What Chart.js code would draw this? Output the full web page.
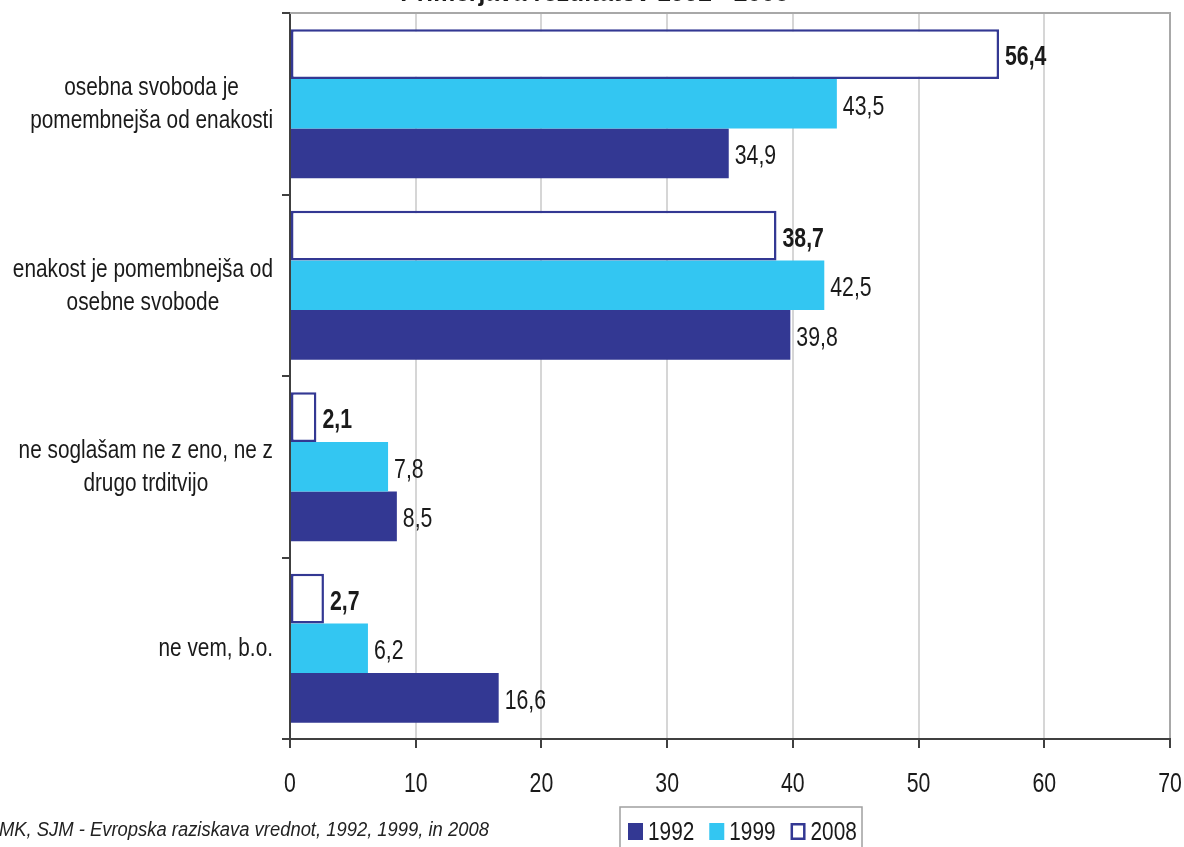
<!DOCTYPE html>
<html>
<head>
<meta charset="utf-8">
<script src="https://cdn.jsdelivr.net/npm/chart.js@4.4.1/dist/chart.umd.min.js"></script>
<style>
  html, body { margin: 0; padding: 0; background: #ffffff; overflow: hidden; }
  #wrap { position: relative; width: 1184px; height: 847px; overflow: hidden; }
  #c { position: absolute; left: 0; top: 0; }
  .sans { font-family: 'Liberation Sans', Arial, sans-serif; }
  #titlebox { position: absolute; left: 0; width: 1190px; top: -23px; text-align: center; }
  #title { display: inline-block; font-size: 26px; font-weight: bold; color: #1a1a1a; line-height: 30px; white-space: nowrap; transform: scaleX(0.95); transform-origin: center; }
  #source { position: absolute; left: -1px; top: 818px; font-size: 20px; font-style: italic; color: #222; white-space: nowrap; line-height: 22px; transform: scaleX(0.92); transform-origin: left center; }
</style>
</head>
<body>
<div id="wrap">
  <canvas id="c" width="1184" height="847"></canvas>
  <div id="titlebox"><span id="title" class="sans">Primerjava rezultatov 1992 - 2008</span></div>
  <div id="source" class="sans">MK, SJM - Evropska raziskava vrednot, 1992, 1999, in 2008</div>
</div>
<script>
const categories = [
  ["osebna svoboda je", "pomembnejša od enakosti"],
  ["enakost je pomembnejša od", "osebne svobode"],
  ["ne soglašam ne z eno, ne z", "drugo trditvijo"],
  ["ne vem, b.o."]
];
const values1992 = [34.9, 39.8, 8.5, 16.6];
const values1999 = [43.5, 42.5, 7.8, 6.2];
const values2008 = [56.4, 38.7, 2.1, 2.7];
const xTicks = [0, 10, 20, 30, 40, 50, 60, 70];

const FONT = "'Liberation Sans', Arial, sans-serif";
const NAVY = '#333893';
const CYAN = '#33c6f2';
const TXT = '#1a1a1a';

// draw narrow text (Arial Narrow look) by condensing horizontally
function narrowText(ctx, text, x, y, sx, align) {
  ctx.save();
  const w = ctx.measureText(text).width * sx;
  let left = x;
  if (align === 'center') left = x - w / 2;
  else if (align === 'right') left = x - w;
  ctx.translate(left, y);
  ctx.scale(sx, 1);
  ctx.textAlign = 'left';
  ctx.fillText(text, 0, 0);
  ctx.restore();
  return w;
}

const decorations = {
  id: 'decorations',
  afterDatasetsDraw(chart) {
    const ctx = chart.ctx;
    const ca = chart.chartArea;
    ctx.save();
    // top border
    ctx.strokeStyle = '#a8a8a8';
    ctx.lineWidth = 2;
    ctx.beginPath();
    ctx.moveTo(ca.left, ca.top);
    ctx.lineTo(ca.right + 1, ca.top);
    ctx.stroke();

    ctx.textBaseline = 'alphabetic';
    ctx.fillStyle = TXT;

    // value labels
    chart.data.datasets.forEach((ds, di) => {
      const meta = chart.getDatasetMeta(di);
      ctx.font = (ds.label === '2008' ? 'bold ' : '') + '28px ' + FONT;
      meta.data.forEach((el, i) => {
        const txt = ds.data[i].toFixed(1).replace('.', ',');
        narrowText(ctx, txt, el.x + 6, el.y + 11, 0.76, 'left');
      });
    });

    // x tick labels
    const xs = chart.scales.x;
    ctx.font = '28px ' + FONT;
    xs.ticks.forEach(t => {
      narrowText(ctx, String(t.value), xs.getPixelForValue(t.value), ca.bottom + 53, 0.76, 'center');
    });

    // category labels (block right-aligned, lines centered)
    const yScale = chart.scales.y;
    ctx.font = '26px ' + FONT;
    const sx = 0.8;
    const lh = 33;
    const rightEdge = 273;
    categories.forEach((lines, i) => {
      const cy = yScale.getPixelForValue(i);
      const w = Math.max(...lines.map(l => ctx.measureText(l).width)) * sx;
      const cx = rightEdge - w / 2;
      lines.forEach((l, j) => {
        const y = cy + 8 + (j - (lines.length - 1) / 2) * lh;
        narrowText(ctx, l, cx, y, sx, 'center');
      });
    });

    // legend
    const items = chart.data.datasets.slice().reverse();
    ctx.strokeStyle = '#a0a0a0';
    ctx.lineWidth = 1.5;
    ctx.strokeRect(620, 807, 242, 60);
    let x = 628;
    ctx.font = '26px ' + FONT;
    items.forEach(ds => {
      if (ds.backgroundColor === '#ffffff') {
        ctx.fillStyle = '#ffffff';
        ctx.fillRect(x, 823, 15, 17);
        ctx.strokeStyle = ds.borderColor;
        ctx.lineWidth = 2.5;
        ctx.strokeRect(x + 1.25, 824.25, 12.5, 14.5);
      } else {
        ctx.fillStyle = ds.backgroundColor;
        ctx.fillRect(x, 823, 15, 17);
      }
      x += 20;
      ctx.fillStyle = TXT;
      x += narrowText(ctx, ds.label, x, 840, 0.8, 'left') + 15;
    });
    ctx.restore();
  }
};

new Chart(document.getElementById('c'), {
  type: 'bar',
  data: {
    labels: categories,
    datasets: [
      { label: '2008', data: values2008, backgroundColor: '#ffffff', borderColor: NAVY, borderWidth: 2.5, borderSkipped: false },
      { label: '1999', data: values1999, backgroundColor: CYAN, borderWidth: 0 },
      { label: '1992', data: values1992, backgroundColor: NAVY, borderWidth: 0 }
    ]
  },
  options: {
    indexAxis: 'y',
    responsive: false,
    animation: false,
    categoryPercentage: 0.82,
    barPercentage: 1.0,
    layout: { padding: { top: 13, right: 14, left: 0, bottom: 0 } },
    plugins: { legend: { display: false }, title: { display: false }, tooltip: { enabled: false } },
    scales: {
      x: {
        min: 0, max: 70,
        afterBuildTicks(s) { s.ticks = xTicks.map(v => ({ value: v })); },
        afterFit(s) { s.height = 108; s.paddingLeft = 0; s.paddingRight = 0; },
        ticks: { display: false },
        grid: {
          color: ctx => (ctx.tick && ctx.tick.value === 70) ? '#a8a8a8' : '#d6d6d6',
          lineWidth: 2,
          tickColor: '#404040',
          tickLength: 9
        },
        border: { color: '#404040', width: 2 }
      },
      y: {
        afterFit(s) { s.width = 290; },
        ticks: { display: false },
        grid: { drawOnChartArea: false, offset: true, tickLength: 8, tickColor: '#404040', lineWidth: 2 },
        border: { color: '#404040', width: 2 }
      }
    }
  },
  plugins: [decorations]
});
</script>
</body>
</html>
